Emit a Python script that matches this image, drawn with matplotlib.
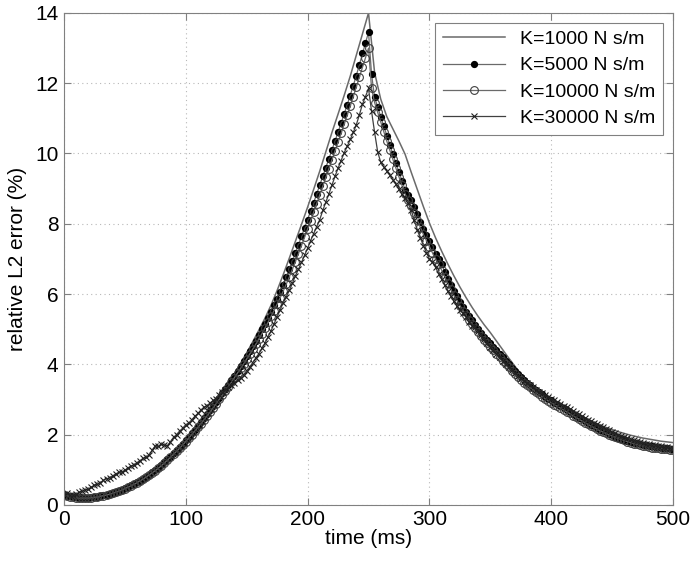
import numpy as np
import matplotlib
matplotlib.use("Agg")
import matplotlib.pyplot as plt

plt.rcParams["font.family"] = ["Liberation Sans", "DejaVu Sans"]

# K=1000 curve has no markers, sampled every 5 ms
t_line = np.arange(0, 505, 5)
k1000 = [0.30, 0.26, 0.23, 0.22, 0.22, 0.24, 0.27, 0.31, 0.36, 0.42,
         0.49, 0.57, 0.66, 0.77, 0.89, 1.02, 1.16, 1.32, 1.49, 1.67,
         1.86, 2.06, 2.27, 2.49, 2.72, 2.96, 3.21, 3.47, 3.74, 4.02,
         4.32, 4.64, 4.97, 5.31, 5.68, 6.10, 6.55, 7.02, 7.50, 7.98,
         8.47, 8.98, 9.50, 10.05, 10.60, 11.12, 11.65, 12.20, 12.80, 13.40,
         14.00,
         12.30, 11.55, 11.05, 10.70, 10.35, 9.98, 9.47, 8.98, 8.49, 8.02,
         7.60, 7.22, 6.86, 6.52, 6.20, 5.90, 5.62, 5.36, 5.12, 4.90,
         4.66, 4.42, 4.18, 3.95, 3.72, 3.50, 3.36, 3.23, 3.11, 3.00,
         2.90, 2.80, 2.70, 2.61, 2.52, 2.43, 2.35, 2.27, 2.20, 2.14,
         2.08, 2.03, 1.98, 1.94, 1.90, 1.87, 1.84, 1.81, 1.79, 1.77]

# marker curves, sampled every 2.5 ms (one row = 25 ms)
t_mark = np.arange(201) * 2.5
k5000 = [0.28, 0.26, 0.24, 0.22, 0.21, 0.20, 0.20, 0.20, 0.20, 0.21,
         0.22, 0.23, 0.25, 0.27, 0.29, 0.31, 0.34, 0.37, 0.40, 0.43,
         0.47, 0.51, 0.55, 0.59, 0.64, 0.69, 0.74, 0.80, 0.86, 0.92,
         0.99, 1.06, 1.13, 1.21, 1.29, 1.37, 1.46, 1.55, 1.64, 1.73,
         1.83, 1.93, 2.03, 2.13, 2.24, 2.35, 2.46, 2.57, 2.69, 2.81,
         2.93, 3.05, 3.17, 3.29, 3.42, 3.55, 3.68, 3.81, 3.95, 4.09,
         4.23, 4.37, 4.52, 4.67, 4.83, 4.99, 5.15, 5.32, 5.50, 5.68,
         5.87, 6.07, 6.27, 6.48, 6.70, 6.93, 7.17, 7.40, 7.64, 7.88,
         8.12, 8.36, 8.60, 8.85, 9.10, 9.35, 9.60, 9.85, 10.10, 10.35,
         10.60, 10.86, 11.12, 11.38, 11.65, 11.93, 12.22, 12.53, 12.85, 13.15,
         13.45, 12.25, 11.60, 11.32, 11.05, 10.78, 10.50, 10.24, 9.98, 9.72,
         9.47, 9.22, 8.97, 8.82, 8.68, 8.47, 8.27, 8.06, 7.85, 7.68,
         7.52, 7.33, 7.15, 7.00, 6.85, 6.63, 6.42, 6.25, 6.08, 5.93,
         5.78, 5.64, 5.50, 5.37, 5.25, 5.12, 5.00, 4.89, 4.78, 4.69,
         4.60, 4.50, 4.40, 4.30, 4.20, 4.10, 4.00, 3.90, 3.80, 3.71,
         3.63, 3.55, 3.47, 3.40, 3.33, 3.26, 3.20, 3.14, 3.08, 3.02,
         2.97, 2.91, 2.86, 2.80, 2.75, 2.69, 2.64, 2.58, 2.53, 2.48,
         2.43, 2.38, 2.33, 2.28, 2.23, 2.18, 2.14, 2.10, 2.06, 2.02,
         1.98, 1.94, 1.91, 1.88, 1.85, 1.82, 1.80, 1.77, 1.75, 1.73,
         1.71, 1.69, 1.68, 1.66, 1.65, 1.64, 1.63, 1.62, 1.61, 1.60,
         1.60]

k10000 = [0.27, 0.25, 0.23, 0.21, 0.20, 0.19, 0.19, 0.19, 0.19, 0.20,
          0.21, 0.22, 0.24, 0.26, 0.28, 0.30, 0.33, 0.36, 0.39, 0.42,
          0.46, 0.50, 0.54, 0.58, 0.63, 0.68, 0.73, 0.79, 0.85, 0.91,
          0.97, 1.04, 1.11, 1.19, 1.27, 1.35, 1.44, 1.52, 1.61, 1.70,
          1.80, 1.90, 2.00, 2.10, 2.20, 2.31, 2.42, 2.53, 2.64, 2.76,
          2.88, 3.00, 3.12, 3.24, 3.36, 3.49, 3.62, 3.75, 3.88, 4.01,
          4.15, 4.29, 4.43, 4.57, 4.72, 4.87, 5.03, 5.19, 5.36, 5.53,
          5.71, 5.89, 6.08, 6.28, 6.48, 6.70, 6.92, 7.15, 7.38, 7.61,
          7.85, 8.09, 8.33, 8.57, 8.82, 9.07, 9.32, 9.57, 9.82, 10.07,
          10.32, 10.57, 10.83, 11.09, 11.35, 11.62, 11.90, 12.17, 12.45, 12.72,
          13.00, 11.85, 11.45, 11.18, 10.90, 10.62, 10.35, 10.09, 9.83, 9.58,
          9.33, 9.09, 8.85, 8.68, 8.50, 8.30, 8.10, 7.90, 7.70, 7.52,
          7.35, 7.17, 7.00, 6.84, 6.68, 6.49, 6.30, 6.13, 5.97, 5.82,
          5.67, 5.53, 5.40, 5.27, 5.15, 5.03, 4.92, 4.81, 4.70, 4.60,
          4.50, 4.40, 4.30, 4.20, 4.10, 4.01, 3.92, 3.82, 3.73, 3.64,
          3.56, 3.48, 3.41, 3.34, 3.27, 3.20, 3.14, 3.08, 3.02, 2.96,
          2.91, 2.85, 2.80, 2.75, 2.70, 2.65, 2.60, 2.54, 2.49, 2.44,
          2.39, 2.34, 2.29, 2.24, 2.20, 2.15, 2.11, 2.07, 2.03, 1.99,
          1.96, 1.92, 1.89, 1.86, 1.83, 1.80, 1.77, 1.74, 1.72, 1.70,
          1.68, 1.66, 1.65, 1.63, 1.62, 1.61, 1.60, 1.59, 1.58, 1.57,
          1.57]

k30000 = [0.30, 0.33, 0.28, 0.27, 0.30, 0.35, 0.38, 0.43, 0.44, 0.50,
          0.55, 0.58, 0.63, 0.70, 0.74, 0.77, 0.82, 0.88, 0.92, 0.93,
          0.98, 1.05, 1.10, 1.13, 1.20, 1.26, 1.32, 1.35, 1.42, 1.55,
          1.68, 1.66, 1.72, 1.70, 1.68, 1.80, 1.92, 2.00, 2.10, 2.18,
          2.28, 2.33, 2.42, 2.52, 2.60, 2.70, 2.78, 2.82, 2.90, 2.97,
          3.02, 3.12, 3.20, 3.27, 3.35, 3.40, 3.48, 3.55, 3.62, 3.70,
          3.82, 3.92, 4.05, 4.18, 4.30, 4.45, 4.60, 4.78, 4.95, 5.15,
          5.35, 5.55, 5.75, 5.92, 6.10, 6.30, 6.52, 6.70, 6.90, 7.10,
          7.30, 7.52, 7.72, 7.92, 8.12, 8.38, 8.62, 8.85, 9.10, 9.35,
          9.58, 9.80, 10.02, 10.20, 10.40, 10.60, 10.82, 11.10, 11.40, 11.62,
          11.85, 11.20, 10.60, 10.05, 9.75, 9.62, 9.50, 9.38, 9.25, 9.12,
          8.98, 8.85, 8.72, 8.58, 8.40, 8.10, 7.82, 7.60, 7.38, 7.18,
          7.00, 6.90, 6.76, 6.58, 6.42, 6.25, 6.08, 5.95, 5.80, 5.67,
          5.55, 5.45, 5.35, 5.20, 5.10, 5.05, 4.95, 4.82, 4.72, 4.60,
          4.50, 4.40, 4.30, 4.20, 4.10, 4.01, 3.92, 3.84, 3.75, 3.68,
          3.60, 3.53, 3.47, 3.41, 3.34, 3.28, 3.22, 3.17, 3.12, 3.07,
          3.02, 2.97, 2.92, 2.87, 2.82, 2.77, 2.72, 2.67, 2.62, 2.57,
          2.52, 2.47, 2.42, 2.38, 2.33, 2.29, 2.25, 2.20, 2.16, 2.12,
          2.08, 2.04, 2.00, 1.96, 1.93, 1.90, 1.87, 1.84, 1.81, 1.78,
          1.76, 1.74, 1.72, 1.70, 1.69, 1.67, 1.66, 1.65, 1.64, 1.63,
          1.62]

labels = ["K=1000 N s/m", "K=5000 N s/m", "K=10000 N s/m", "K=30000 N s/m"]

fig = plt.figure(figsize=(6.94, 5.64), dpi=100)
ax = fig.add_axes([0.092, 0.105, 0.878, 0.872])

lc = "#6a6a6a"
ax.plot(t_line, k1000, color=lc, lw=1.1, label=labels[0])
ax.plot(t_mark, k5000, color=lc, lw=0.9, marker="o", ms=4.2,
        mfc="black", mec="black", label=labels[1])
ax.plot(t_mark, k10000, color=lc, lw=0.9, marker="o", ms=5.6,
        mfc="none", mec="#404040", mew=0.8, label=labels[2])
ax.plot(t_mark, k30000, color="#404040", lw=0.9, marker="x", ms=4.6,
        mec="#202020", mew=0.8, label=labels[3])

ax.set_xlim(0, 500)
ax.set_ylim(0, 14)
ax.set_xticks(range(0, 501, 100))
ax.set_yticks(range(0, 15, 2))
ax.grid(True, linestyle=(0, (1, 3)), color="#b8b8b8", lw=0.8)
ax.tick_params(direction="in", top=True, right=True, labelsize=15,
               length=5, color="#808080", pad=4)
for s in ax.spines.values():
    s.set_color("#808080")

ax.set_xlabel("time (ms)", fontsize=15, labelpad=0)
ax.set_ylabel("relative L2 error (%)", fontsize=15, labelpad=6)

leg = ax.legend(loc="upper right", fontsize=14, handlelength=3.2,
                labelspacing=0.45, borderpad=0.4, fancybox=False,
                framealpha=1, edgecolor="#808080", borderaxespad=0.5)
leg.get_frame().set_linewidth(0.8)

fig.savefig("out.png", dpi=100)
